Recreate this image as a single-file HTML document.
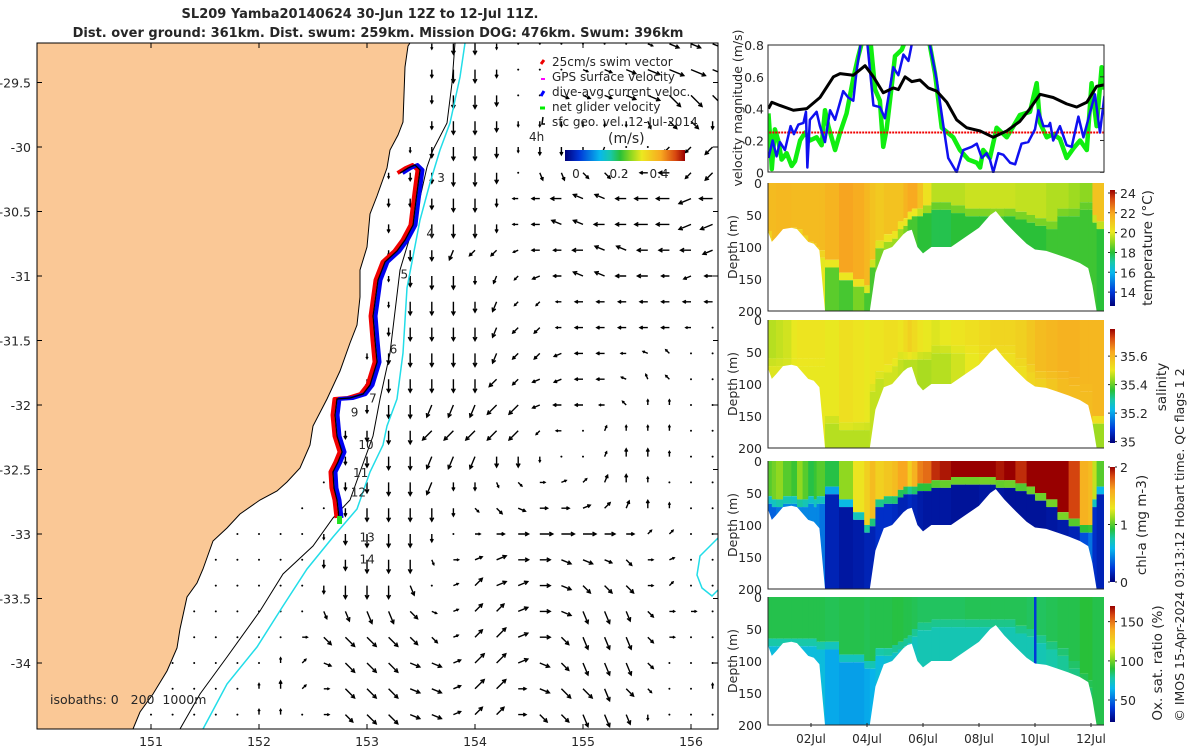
<!DOCTYPE html>
<html><head><meta charset="utf-8">
<style>
html,body{margin:0;padding:0;background:#fff;}
svg{display:block;font-family:"DejaVu Sans","Liberation Sans",sans-serif;}
text{fill:#262626;}
</style></head>
<body>
<svg id="root" width="1200" height="750" viewBox="0 0 1200 750" xmlns="http://www.w3.org/2000/svg">
<defs>
<linearGradient id="cmapV" x1="0" y1="1" x2="0" y2="0">
<stop offset="0" stop-color="#00007a"/><stop offset="0.12" stop-color="#0038d8"/><stop offset="0.29" stop-color="#08b8ec"/><stop offset="0.38" stop-color="#18c8a8"/><stop offset="0.46" stop-color="#28c038"/><stop offset="0.55" stop-color="#90d820"/><stop offset="0.64" stop-color="#ece820"/><stop offset="0.80" stop-color="#f8a820"/><stop offset="0.92" stop-color="#d84810"/><stop offset="1" stop-color="#980000"/>
</linearGradient>
<linearGradient id="cmapH" x1="0" y1="0" x2="1" y2="0">
<stop offset="0" stop-color="#00007a"/><stop offset="0.12" stop-color="#0038d8"/><stop offset="0.29" stop-color="#08b8ec"/><stop offset="0.38" stop-color="#18c8a8"/><stop offset="0.46" stop-color="#28c038"/><stop offset="0.55" stop-color="#90d820"/><stop offset="0.64" stop-color="#ece820"/><stop offset="0.80" stop-color="#f8a820"/><stop offset="0.92" stop-color="#d84810"/><stop offset="1" stop-color="#980000"/>
</linearGradient>
<clipPath id="mapClip"><rect x="37" y="43" width="681" height="686"/></clipPath>
<clipPath id="velClip"><rect x="768" y="45" width="336" height="128"/></clipPath>
</defs>

<text x="360" y="18" text-anchor="middle" font-size="13" font-weight="bold">SL209 Yamba20140624 30-Jun 12Z to 12-Jul 11Z.</text>
<text x="378" y="37" text-anchor="middle" font-size="13" font-weight="bold">Dist. over ground: 361km. Dist. swum: 259km. Mission DOG: 476km. Swum: 396km</text>

<g id="map">
  <rect x="37" y="43" width="681" height="686" fill="#fff"/>
  <g id="quiver" clip-path="url(#mapClip)"></g>
  <g clip-path="url(#mapClip)">
    <path d="M37,43 L410,43 L408,46 L405,67 L403,122 L398,135 L390,150 L387,168 L377,196 L370,214 L367,247 L360,270 L360,297 L357,325 L350,343 L340,371 L327,399 L313,426 L310,445 L300,468 L287,482 L277,491 L260,500 L240,514 L227,528 L213,541 L203,569 L197,583 L187,597 L180,629 L177,648 L167,671 L153,694 L140,712 L133,729 L37,729 Z" fill="#fac896" stroke="#000" stroke-width="1"/>
    <polyline points="455,43 452,83 447,123 433,150 427,167 415,220 400,270 390,353 380,399 373,436 360,472 350,500 333,518 313,546 283,574 260,611 227,657 200,694 180,729" fill="none" stroke="#000" stroke-width="1"/>
    <polyline points="465,43 460,77 450,123 440,150 430,183 420,220 407,288 403,353 397,399 387,426 383,445 370,472 357,509 333,537 307,569 283,606 257,647 227,684 203,729" fill="none" stroke="#22dde8" stroke-width="1.5"/>
    <path d="M718,538 L708,548 L700,556 L697,575 L702,588 L712,596 L718,590" fill="none" stroke="#22dde8" stroke-width="1.5"/>
  </g>
  <g id="track"></g>
  <g id="trackLabels" font-size="12"></g>
  <rect x="37" y="43" width="681" height="686" fill="none" stroke="#000" stroke-width="1"/>
  <g id="mapTicks" font-size="12.5"></g>
  <text x="50" y="704" font-size="12.5">isobaths: 0&#160;&#160;&#160;200&#160;&#160;1000m</text>
  <g font-size="12">
    <path d="M541,64 l3,-4" stroke="#e00" stroke-width="3"/>
    <text x="552" y="66">25cm/s swim vector</text>
    <path d="M541,79 l4,0" stroke="#f0f" stroke-width="2"/>
    <text x="552" y="81">GPS surface velocity</text>
    <path d="M541,96 l3,-5" stroke="#00f" stroke-width="3"/>
    <text x="552" y="96">dive-avg current veloc.</text>
    <path d="M540,108 l5,0" stroke="#0e0" stroke-width="3"/>
    <text x="552" y="111">net glider velocity</text>
    <path d="M543,117 l-1,7 l3,0" stroke="#000" stroke-width="1.5" fill="none"/>
    <text x="552" y="126">sfc geo. vel. 12-Jul-2014</text>
    <text x="529" y="141">4h</text>
    <text x="608" y="143" font-size="14">(m/s)</text>
    <rect x="565" y="150" width="120" height="11" fill="url(#cmapH)"/>
    <text x="576" y="178" text-anchor="middle">0</text>
    <text x="619" y="178" text-anchor="middle">0.2</text>
    <text x="659" y="178" text-anchor="middle">0.4</text>
  </g>
</g>

<g id="vel">
  <g id="velPlot" clip-path="url(#velClip)"></g>
  <rect x="768" y="45" width="336" height="127" fill="none" stroke="#262626" stroke-width="1"/>
  <g id="velTicks" font-size="12.5"></g>
  <text transform="translate(742,108) rotate(-90)" text-anchor="middle" font-size="12.5">velocity magnitude (m/s)</text>
</g>

<g id="sections"></g>

<text transform="translate(1184,545) rotate(-90)" text-anchor="middle" font-size="12.5">© IMOS 15-Apr-2024 03:13:12 Hobart time. QC flags 1  2</text>

<script>
// ---------------- DATA ----------------
const blackT = [0.48,0.60,0.89,1.37,1.85,2.32,2.80,3.04,3.51,3.93,4.23,4.58,4.94,5.12,5.36,5.60,5.89,6.19,6.49,6.85,7.20,7.56,8.04,8.51,8.99,9.46,9.82,10.18,10.65,11.13,11.49,11.85,12.20,12.47];
const blackV = [0.40,0.44,0.42,0.39,0.40,0.47,0.60,0.62,0.61,0.67,0.60,0.50,0.53,0.52,0.60,0.57,0.58,0.53,0.51,0.44,0.33,0.28,0.26,0.22,0.26,0.32,0.40,0.49,0.47,0.43,0.41,0.44,0.54,0.55];
const blueT = [0.48,0.63,0.77,0.89,1.07,1.27,1.39,1.55,1.73,1.82,1.87,1.96,2.20,2.32,2.50,2.68,2.86,3.15,3.33,3.51,3.63,3.81,3.99,4.23,4.46,4.64,4.94,5.12,5.30,5.48,5.65,6.19,6.49,6.73,6.90,7.20,7.44,7.74,7.92,8.10,8.27,8.39,8.51,8.69,8.87,9.11,9.29,9.52,9.76,10.00,10.12,10.30,10.48,10.54,10.65,10.89,11.13,11.31,11.55,11.73,12.14,12.32,12.48];
const blueV = [0.09,0.20,0.10,0.19,0.14,0.29,0.24,0.30,0.31,0.38,0.03,0.33,0.38,0.29,0.19,0.39,0.33,0.51,0.47,0.45,0.64,0.85,0.85,0.42,0.41,0.34,0.66,0.61,0.74,0.70,0.85,0.85,0.58,0.29,0.09,0.00,0.14,0.16,0.18,0.09,0.12,0.08,0.00,0.12,0.11,0.06,0.05,0.18,0.19,0.27,0.39,0.29,0.29,0.31,0.20,0.29,0.17,0.16,0.35,0.22,0.49,0.25,0.48];
const greenT = [0.48,0.54,0.60,0.71,0.83,0.95,1.13,1.31,1.43,1.61,1.79,1.96,2.20,2.38,2.50,2.62,2.86,3.04,3.27,3.51,3.69,3.87,4.11,4.29,4.46,4.58,4.70,4.88,5.00,5.24,5.42,5.89,6.19,6.43,6.67,7.08,7.32,7.62,7.92,8.04,8.15,8.39,8.63,8.99,9.23,9.46,9.82,10.06,10.18,10.42,10.65,10.89,11.13,11.37,11.61,11.85,12.02,12.20,12.38,12.48];
const greenV = [0.37,0.22,0.02,0.27,0.20,0.08,0.12,0.04,0.07,0.20,0.25,0.20,0.22,0.17,0.39,0.29,0.14,0.25,0.37,0.59,0.73,0.85,0.85,0.52,0.45,0.16,0.27,0.54,0.73,0.77,0.85,0.85,0.85,0.62,0.28,0.22,0.14,0.08,0.06,0.03,0.14,0.09,0.28,0.22,0.29,0.36,0.38,0.56,0.31,0.22,0.24,0.21,0.09,0.15,0.20,0.14,0.56,0.29,0.66,0.52];
const swimSpeed = [0.25];
const velTicks = [0,0.2,0.4,0.6,0.8];
const dayTicks = [2,4,6,8,10,12];
const dayLabels = ["02Jul","04Jul","06Jul","08Jul","10Jul","12Jul"];

const secT = [0.46,0.6,0.75,1.0,1.3,1.5,1.7,1.9,2.1,2.2,2.3,2.5,3.0,3.5,3.9,4.1,4.3,4.6,4.9,5.1,5.3,5.45,5.6,5.8,6.0,6.3,6.6,7.0,7.5,8.0,8.4,8.6,8.9,9.3,9.7,10.0,10.4,10.8,11.2,11.6,11.9,12.05,12.2,12.46];
const secBottom = [75,92,85,72,70,72,82,92,95,100,105,200,200,200,200,200,140,105,100,90,80,75,73,100,110,100,100,100,85,70,50,44,60,78,95,104,106,112,118,125,133,160,200,200];
const tempSurf = [21.4,21.4,21.5,21.5,21.4,21.4,21.4,21.4,21.4,21.4,21.4,21.6,22.0,21.8,21.5,21.2,21,21.2,21.2,21.2,21.6,21.9,21.9,21.2,20.3,19.5,19.5,19.5,19.7,19.7,19.7,19.7,19.7,19.6,19.6,19.6,19.4,19.4,19.2,19.0,19.0,21.2,21.2,21.2];
const tempMld = [75,92,85,72,70,72,82,92,95,100,105,120,140,150,160,120,90,80,75,60,55,45,40,40,35,30,30,35,40,40,40,40,40,45,50,55,60,40,40,30,30,50,60,60];
const tempDeep = [20,20,20,20,20,20,20,20,20,20,20,18.5,18.3,18.8,18.3,18.3,18.8,19.2,19.2,19.2,18.8,18.3,18.3,18,18,17.8,17.8,18,18,18,18.2,18.2,18,18,18,18,18.2,18.2,18.2,18.2,18.2,18.2,18,17.8];
const salSurf = [35.46,35.46,35.47,35.48,35.5,35.51,35.51,35.51,35.51,35.51,35.51,35.5,35.52,35.51,35.5,35.51,35.51,35.52,35.52,35.51,35.53,35.55,35.53,35.51,35.5,35.49,35.5,35.51,35.52,35.53,35.54,35.54,35.54,35.55,35.57,35.59,35.6,35.61,35.61,35.6,35.6,35.6,35.6,35.6];
const salMld = [60,60,60,60,60,60,60,60,60,60,60,150,160,160,160,100,80,70,60,50,50,50,50,50,50,40,40,40,40,40,40,40,40,60,70,80,80,80,90,100,100,150,150,150];
const salDeep = [35.49,35.49,35.49,35.49,35.5,35.5,35.5,35.5,35.5,35.5,35.5,35.46,35.46,35.46,35.46,35.47,35.47,35.48,35.48,35.47,35.46,35.46,35.46,35.45,35.45,35.46,35.46,35.48,35.5,35.52,35.52,35.52,35.52,35.52,35.54,35.55,35.57,35.59,35.59,35.59,35.59,35.44,35.44,35.44];
const chlSurf = [1.0,1.05,1.1,1.0,0.95,1.1,1.0,0.9,0.95,1.0,1.0,0.9,1.1,1.3,1.4,1.5,1.4,1.45,1.5,1.6,1.6,1.4,1.55,1.7,1.75,1.9,1.95,2.0,2.0,2.0,2.0,1.95,2.0,1.9,2.0,2.0,2.0,2.0,1.85,1.55,1.5,1.2,1.0,0.9];
const chlMld = [55,60,60,55,55,60,60,55,60,55,55,40,60,80,100,90,60,55,55,45,40,40,40,35,35,30,30,25,25,25,25,30,30,35,40,50,60,80,90,100,100,60,40,40];
const chlDeep = [0.35,0.35,0.4,0.45,0.45,0.45,0.45,0.45,0.45,0.45,0.4,0.15,0.1,0.12,0.15,0.15,0.2,0.2,0.18,0.15,0.15,0.18,0.15,0.12,0.1,0.1,0.1,0.08,0.08,0.1,0.1,0.1,0.08,0.08,0.08,0.08,0.1,0.12,0.15,0.3,0.4,0.2,0.15,0.15];
const oxySurf = [88,88,88,88,88,88,88,88,88,88,88,87,88,88,87,88,88,88,89,89,88,88,87,86,86,86,86,86,87,87,87,87,87,87,86,86,87,88,88,90,90,88,88,88];
const oxyMld = [65,65,65,65,65,65,65,65,65,70,70,70,90,90,100,100,80,80,75,70,65,60,50,40,40,35,35,35,35,35,35,35,35,45,50,60,70,80,100,120,130,200,200,200];
const oxyDeep = [68,68,68,68,68,68,68,68,68,68,68,62,60,60,62,64,68,70,72,72,72,72,74,76,76,76,76,76,76,76,76,76,76,76,76,76,78,80,82,84,84,84,84,84];
const oxyStreakT = [10.0];

const trackLon = [153.306,153.380,153.444,153.491,153.472,153.454,153.426,153.352,153.278,153.167,153.102,153.056,153.074,153.093,153.028,152.963,152.843,152.722,152.704,152.722,152.769,152.731,152.685,152.694,152.722,152.741];
const trackLat = [-30.202,-30.163,-30.140,-30.178,-30.295,-30.411,-30.605,-30.721,-30.806,-30.891,-31.031,-31.310,-31.496,-31.667,-31.845,-31.915,-31.946,-31.953,-32.078,-32.240,-32.364,-32.442,-32.519,-32.643,-32.736,-32.876];
const dayMarkNames = ["3","4","5","6","7","9","10","11","12","13","14"];
const dayMarkLon = [153.65,153.55,153.31,153.21,153.02,152.85,152.92,152.87,152.85,152.93,152.93];
const dayMarkLat = [-30.27,-30.70,-31.02,-31.60,-31.98,-32.09,-32.34,-32.56,-32.71,-33.06,-33.23];
const lonTicks = [151,152,153,154,155,156];
const latTicks = [-29.5,-30,-30.5,-31,-31.5,-32,-32.5,-33,-33.5,-34];
const latLabels = ["-29.5","-30","-30.5","-31","-31.5","-32","-32.5","-33","-33.5","-34"];
const quiverRows = [
".. ".repeat(18)+"42 44 44 42 00 00 00 00 00 00 12 14 14 14",
".. ".repeat(18)+"43 45 45 43 00 00 10 12 13 14 15 16 16 16",
".. ".repeat(18)+"43 45 45 44 00 00 13 13 13 14 15 26 26 25",
".. ".repeat(18)+"43 45 45 44 42 42 42 42 42 42 33 24 24 43",
".. ".repeat(17)+"42 44 45 45 44 42 43 43 43 53 00 00 63 63 64",
".. ".repeat(16)+"42 43 44 45 45 44 00 33 33 23 23 00 83 84 63 64",
".. ".repeat(16)+"43 43 44 45 45 43 82 83 84 94 94 84 85 85 75 85",
".. ".repeat(16)+"43 43 45 45 45 43 82 83 94 94 84 84 85 85 75 75",
".. ".repeat(16)+"42 44 44 54 63 63 72 83 83 84 94 94 84 84 84 74",
".. ".repeat(16)+"42 44 45 45 43 53 62 73 83 94 94 84 84 83 73 83",
".. ".repeat(16)+"42 45 45 45 44 54 62 62 82 83 83 83 83 83 83 83",
".. ".repeat(16)+"43 45 45 45 45 54 63 63 82 83 83 83 83 83 82 00",
".. ".repeat(15)+"42 44 45 45 45 45 54 63 63 73 83 83 82 92 A2 00 00",
".. ".repeat(15)+"43 45 45 45 45 45 64 63 73 73 83 83 92 B2 A2 00 00",
".. ".repeat(15)+"43 45 45 55 55 55 65 65 73 83 83 82 A2 C2 C2 00 00",
".. ".repeat(14)+"43 44 45 45 65 65 65 65 65 62 82 00 D2 C2 C2 C2 00 00",
".. ".repeat(14)+"43 44 45 45 55 55 55 44 44 42 00 C0 D2 C3 C3 C2 00 00",
".. ".repeat(13)+"00 43 44 45 45 55 43 43 32 22 02 F2 E2 D3 C3 C2 00 00 00",
".. ".repeat(12)+"00 00 43 45 45 45 45 43 22 23 13 03 03 F3 E3 D3 C3 C2 00 00",
".. ".repeat(9)+"00 00 00 00 42 44 45 45 45 43 00 02 03 04 05 05 05 04 03 E2 E2 00 00",
".. ".repeat(8)+"00 00 00 00 00 43 44 45 45 45 32 02 F3 F4 04 04 14 14 13 23 02 F2 00 00",
".. ".repeat(8)+"00 00 00 00 00 43 45 45 45 34 00 F2 E4 F4 F4 04 14 24 24 24 02 E2 00 00",
".. ".repeat(7)+"00 00 00 00 00 00 33 34 35 35 24 12 F2 E4 E4 F4 04 14 35 35 34 23 02 02 00",
".. ".repeat(7)+"00 00 00 00 00 02 24 25 25 25 24 23 F2 E4 E5 F4 04 24 35 35 35 23 02 00 00",
".. ".repeat(6)+"00 00 00 00 00 C2 E2 13 25 25 25 14 14 F3 E5 E5 F4 14 24 35 35 35 23 00 00 00",
".. ".repeat(5)+"00 00 00 00 00 C2 C3 E2 02 25 25 25 14 14 F3 E5 E5 03 14 25 25 35 24 22 00 00 C2",
".. ".repeat(5)+"00 00 00 00 00 C2 C2 00 02 24 25 25 14 14 F3 E4 E4 03 24 24 35 35 34 42 00 00 00"
];

// ---------------- HELPERS ----------------
const NS = "http://www.w3.org/2000/svg";
function el(tag, attrs, parent) {
  const e = document.createElementNS(NS, tag);
  for (const k in attrs) e.setAttribute(k, attrs[k]);
  parent.appendChild(e);
  return e;
}
const stops = [[0,[0,0,122]],[0.12,[0,56,216]],[0.29,[8,184,236]],[0.38,[24,200,168]],[0.46,[40,192,56]],[0.55,[144,216,32]],[0.64,[236,232,32]],[0.80,[248,168,32]],[0.92,[216,72,16]],[1,[152,0,0]]];
function cmap(f) {
  f = Math.max(0, Math.min(1, f));
  for (let i = 1; i < stops.length; i++) {
    if (f <= stops[i][0]) {
      const a = stops[i-1], b = stops[i], r = (f - a[0]) / (b[0] - a[0]);
      const c = a[1].map((v, j) => Math.round(v + (b[1][j] - v) * r));
      return "rgb(" + c.join(",") + ")";
    }
  }
  return "rgb(152,0,0)";
}

// ---------------- MAP ----------------
const mx = lon => 367 + (lon - 153) * 108;
const my = lat => 147 + (-30 - lat) * 129;
const quiver = document.getElementById("quiver");
quiverRows.forEach((row, j) => {
  const toks = row.trim().split(/\s+/);
  toks.forEach((tk, k) => {
    if (tk === "..") return;
    const d = parseInt(tk[0], 16), m = parseInt(tk[1], 10);
    const x = mx(150 + 0.2 * k), y = my(-29.2 - 0.2 * j);
    if (m === 0) {
      const dot = el("circle", {cx: x, cy: y, r: 1}, quiver);
      
      
      return;
    }
    const ang = d * Math.PI / 8, L = m * 2.6;
    const x2 = x + Math.cos(ang) * L, y2 = y + Math.sin(ang) * L;
    const h = Math.min(4, L * 0.4);
    const p = `M${x},${y} L${x2},${y2} M${x2 - h*Math.cos(ang - 0.5)},${y2 - h*Math.sin(ang - 0.5)} L${x2},${y2} L${x2 - h*Math.cos(ang + 0.5)},${y2 - h*Math.sin(ang + 0.5)}`;
    const a = el("path", {d: p, stroke: "#000", "stroke-width": 1.4, fill: "none"}, quiver);
    
    
  });
});
const track = document.getElementById("track");
function trackPts(dx) { return trackLon.map((lo, i) => (mx(lo) + dx) + "," + my(trackLat[i])).join(" "); }
const tRed = el("polyline", {points: trackPts(-2.5), fill: "none", stroke: "#f00000", "stroke-width": 4, "stroke-linejoin": "round"}, track);


const tBlue = el("polyline", {points: trackPts(2.5), fill: "none", stroke: "#0000f0", "stroke-width": 4, "stroke-linejoin": "round"}, track);


const tBlack = el("polyline", {points: trackPts(0), fill: "none", stroke: "#000", "stroke-width": 1.3}, track);


const endDot = el("rect", {x: mx(trackLon[trackLon.length-1]) - 2, y: my(trackLat[trackLat.length-1]) - 2, width: 5, height: 8, fill: "#20e020"}, track);


const tl = document.getElementById("trackLabels");
dayMarkNames.forEach((n, i) => {
  const t = el("text", {x: mx(dayMarkLon[i]), y: my(dayMarkLat[i])}, tl);
  t.textContent = n;
  
  
});
const mt = document.getElementById("mapTicks");
lonTicks.forEach(lo => {
  const x = mx(lo);
  const tk = el("path", {d: `M${x},729 v-5 M${x},43 v5`, stroke: "#000"}, mt);
  
  
  const t = el("text", {x: x, y: 746, "text-anchor": "middle"}, mt);
  t.textContent = String(lo);
  
  
});
latTicks.forEach((la, i) => {
  const y = my(la);
  const tk = el("path", {d: `M37,${y} h5 M718,${y} h-5`, stroke: "#000"}, mt);
  
  
  const t = el("text", {x: 31, y: y + 5, "text-anchor": "end"}, mt);
  t.textContent = latLabels[i];
  
  
});

// ---------------- VELOCITY PANEL ----------------
const tx = t => 811 + (t - 2) * 28;
const vy = v => 172.3 - v / 0.8 * 127.3;
const vp = document.getElementById("velPlot");
function line(T, V, color, w, name) {
  const pl = el("polyline", {points: T.map((t, i) => tx(t) + "," + vy(V[i])).join(" "), fill: "none", stroke: color, "stroke-width": w, "stroke-linejoin": "round"}, vp);
  
  
}
line(greenT, greenV, "#10ee10", 4.5, "net-glider-velocity-line");
const sw = el("line", {x1: tx(0.4), x2: tx(12.6), y1: vy(swimSpeed[0]), y2: vy(swimSpeed[0]), stroke: "#f00000", "stroke-width": 2, "stroke-dasharray": "2,1"}, vp);


line(blueT, blueV, "#1010f0", 2.5, "dive-avg-current-line");
line(blackT, blackV, "#000", 3, "sfc-geo-velocity-line");
const vt = document.getElementById("velTicks");
velTicks.forEach(v => {
  const t = el("text", {x: 764, y: vy(v) + 5, "text-anchor": "end"}, vt);
  t.textContent = v === 0 ? "0" : v.toFixed(1);
  
  
  const tk = el("path", {d: `M1104,${vy(v)} h-4`, stroke: "#262626"}, vt);
  
  
});

// ---------------- SECTIONS ----------------
const secs = [
  {name: "temperature", top: 183, surf: tempSurf, mld: tempMld, deep: tempDeep, lo: 12.6, hi: 24.3, cbTop: 190, cbBot: 306,
   ticks: [24,22,20,18,16,14], tickLabels: ["24","22","20","18","16","14"], label: "temperature (°C)", lx: 1152, ly: 248},
  {name: "salinity", top: 320, surf: salSurf, mld: salMld, deep: salDeep, lo: 34.99, hi: 35.79, cbTop: 329, cbBot: 443,
   ticks: [35.6,35.4,35.2,35], tickLabels: ["35.6","35.4","35.2","35"], label: "salinity", lx: 1166, ly: 387},
  {name: "chlorophyll", top: 461, surf: chlSurf, mld: chlMld, deep: chlDeep, lo: 0, hi: 2, cbTop: 467, cbBot: 582,
   ticks: [2,1,0], tickLabels: ["2","1","0"], label: "chl-a (mg m-3)", lx: 1146, ly: 525},
  {name: "oxygen", top: 597, surf: oxySurf, mld: oxyMld, deep: oxyDeep, lo: 22, hi: 170, cbTop: 606, cbBot: 722,
   ticks: [150,100,50], tickLabels: ["150","100","50"], label: "Ox. sat. ratio (%)", lx: 1162, ly: 663}
];
const secRoot = document.getElementById("sections");
secs.forEach(s => {
  const g = el("g", {}, secRoot);
  
  
  const dy = d => s.top + d * 0.64;
  const col = v => cmap((v - s.lo) / (s.hi - s.lo));
  for (let i = 0; i < secT.length - 1; i++) {
    const x0 = tx(secT[i]), x1 = tx(secT[i+1]) + 0.6;
    const mld = Math.min(s.mld[i], 200);
    const r1 = el("rect", {x: x0, y: dy(0), width: x1 - x0, height: mld * 0.64, fill: col(s.surf[i])}, g);
    
    
    if (mld < 200) {
      const mid = (s.surf[i] + s.deep[i]) / 2;
      const r2 = el("rect", {x: x0, y: dy(mld), width: x1 - x0, height: 12 * 0.64, fill: col(mid)}, g);
      
      
      const r3 = el("rect", {x: x0, y: dy(mld + 12), width: x1 - x0, height: Math.max(0, 200 - mld - 12) * 0.64, fill: col(s.deep[i])}, g);
      
      
    }
  }
  if (s.name === "oxygen") {
    oxyStreakT.forEach(t => {
      const st = el("rect", {x: tx(t) - 1, y: dy(0), width: 2.5, height: 108 * 0.64, fill: col(40)}, g);
      
      
    });
  }
  const pts = [tx(secT[0]) - 3 + "," + dy(201)];
  secT.forEach((t, i) => pts.push(tx(t) + "," + dy(secBottom[i])));
  pts.push(tx(12.6) + "," + dy(secBottom[secBottom.length-1]));
  pts.push(tx(12.6) + "," + dy(201));
  const sb = el("polygon", {points: pts.join(" "), fill: "#fff"}, g);
  
  
  const wr = el("rect", {x: 1104, y: s.top - 2, width: 6, height: 132, fill: "#fff"}, g);
  
  
  const ax = el("path", {d: `M768,${dy(0)} V${dy(200)} H1104`, fill: "none", stroke: "#262626"}, g);
  
  
  [0,50,100,150,200].forEach(d => {
    const t = el("text", {x: 762, y: dy(d) + 5, "text-anchor": "end", "font-size": 12.5}, g);
    t.textContent = String(d);
    
    
  });
  const yl = el("text", {transform: `translate(737,${dy(100)}) rotate(-90)`, "text-anchor": "middle", "font-size": 12.5}, g);
  yl.textContent = "Depth (m)";
  
  
  const cb = el("rect", {x: 1110, y: s.cbTop, width: 5, height: s.cbBot - s.cbTop, fill: "url(#cmapV)"}, g);
  
  
  s.ticks.forEach((v, i) => {
    const y = s.cbBot - (v - s.lo) / (s.hi - s.lo) * (s.cbBot - s.cbTop);
    const tk = el("path", {d: `M1110,${y} h-2 M1115,${y} h2`, stroke: "#262626"}, g);
    
    
    const t = el("text", {x: 1120, y: y + 5, "font-size": 12.5}, g);
    t.textContent = s.tickLabels[i];
    
    
  });
  const lb = el("text", {transform: `translate(${s.lx},${s.ly}) rotate(-90)`, "text-anchor": "middle", "font-size": 13.5}, g);
  lb.textContent = s.label;
  
  
});
dayTicks.forEach((d, i) => {
  const x = tx(d);
  const tk = el("path", {d: `M${x},727 v-4`, stroke: "#262626"}, secRoot);
  
  
  const t = el("text", {x: x, y: 743, "text-anchor": "middle", "font-size": 12}, secRoot);
  t.textContent = dayLabels[i];
  
  
});
</script>
</svg>
</body></html>
